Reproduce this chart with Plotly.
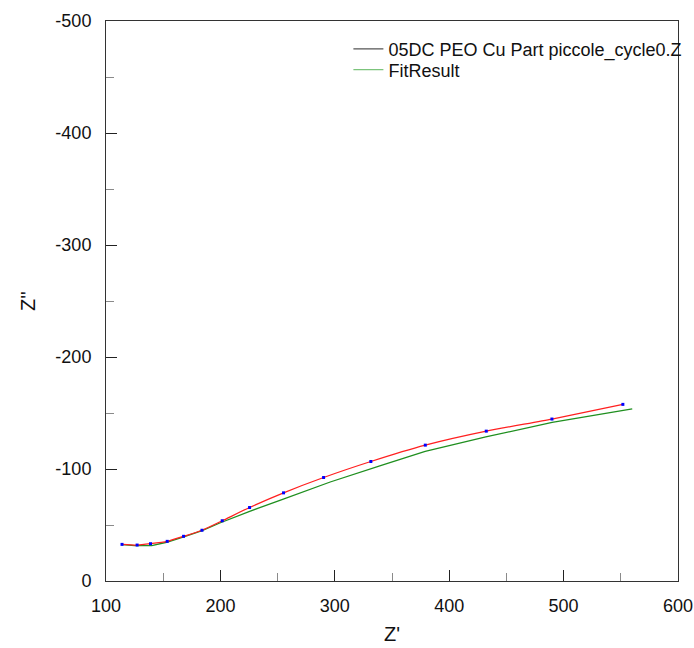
import plotly.graph_objects as go

# Measured impedance spectrum (Z' and Z'' in ohm)
z_re_meas = [114.0, 127.2, 138.9, 153.5, 167.8, 183.9, 201.6, 225.5, 255.2,
             290.2, 331.5, 379.1, 432.4, 489.8, 551.8]
z_im_meas = [-32.7, -32.1, -33.3, -35.4, -39.9, -45.3, -53.8, -65.6, -78.7,
             -92.4, -106.7, -121.3, -133.8, -144.6, -157.7]

# Equivalent-circuit fit curve
z_re_fit = [114.0, 125.0, 140.0, 153.0, 168.0, 184.0, 200.0, 225.0, 255.0,
            296.0, 340.0, 379.0, 432.0, 490.0, 560.0]
z_im_fit = [-32.5, -31.5, -31.6, -34.6, -39.5, -45.0, -52.0, -62.0, -73.2,
            -88.4, -103.0, -115.7, -128.6, -141.6, -153.6]

meas_name = "05DC PEO Cu Part piccole_cycle0.Z"
fit_name = "FitResult"

x_ticks = [100, 200, 300, 400, 500, 600]
y_ticks = [0, -100, -200, -300, -400, -500]

FONT = "Liberation Sans, Arial, sans-serif"

fig = go.Figure()

# Fit curve
fig.add_trace(go.Scatter(
    x=z_re_fit, y=z_im_fit, mode="lines",
    line=dict(color="#1f8f1f", width=1.3),
    showlegend=False, hoverinfo="skip",
))

# Measured data: red line with blue point markers
fig.add_trace(go.Scatter(
    x=z_re_meas, y=z_im_meas, mode="lines+markers",
    line=dict(color="#ff2020", width=1.3, shape="spline", smoothing=0.6),
    marker=dict(color="#0000ff", size=3, symbol="square"),
    showlegend=False,
))

# Legend entries, one legend box each
fig.add_trace(go.Scatter(
    x=[None], y=[None], mode="lines", name=meas_name, legend="legend",
    line=dict(color="#555555", width=1.2),
))
fig.add_trace(go.Scatter(
    x=[None], y=[None], mode="lines", name=fit_name, legend="legend2",
    line=dict(color="#7cc47c", width=1.2),
))

axis_common = dict(
    showgrid=False, zeroline=False, automargin=False,
    showline=True, linecolor="#333333", linewidth=1, mirror=True,
    ticks="inside", ticklen=11, tickcolor="#222222", tickwidth=1,
    tickfont=dict(family=FONT, size=18, color="#111111"),
    minor=dict(ticks="inside", ticklen=8, tickcolor="#8a8a8a", tickwidth=1),
)

fig.update_xaxes(
    range=[100, 600], tickvals=x_ticks, ticktext=[str(v) for v in x_ticks],
    minor_dtick=50, minor_tick0=100,
    title=dict(text="Z'", font=dict(family=FONT, size=20, color="#111111"), standoff=12),
    ticklabelstandoff=8,
    **axis_common,
)
fig.update_yaxes(
    range=[0, -500], tickvals=y_ticks, ticktext=[str(v) for v in y_ticks],
    minor_dtick=50, minor_tick0=0,
    title=dict(text="Z''", font=dict(family=FONT, size=20, color="#111111"), standoff=14),
    ticklabelstandoff=10,
    **axis_common,
)

legend_common = dict(
    xref="container", yref="container",
    xanchor="left", yanchor="middle",
    bgcolor="rgba(0,0,0,0)", borderwidth=0,
    font=dict(family=FONT, size=18, color="#111111"),
)

fig.update_layout(
    width=694, height=648,
    margin=dict(l=106, r=16, t=21, b=67, autoexpand=False),
    paper_bgcolor="white", plot_bgcolor="white",
    font=dict(family=FONT, color="#111111"),
    legend=dict(x=0.502, y=0.924, **legend_common),
    legend2=dict(x=0.502, y=0.892, **legend_common),
)

fig.write_html("out.html")
